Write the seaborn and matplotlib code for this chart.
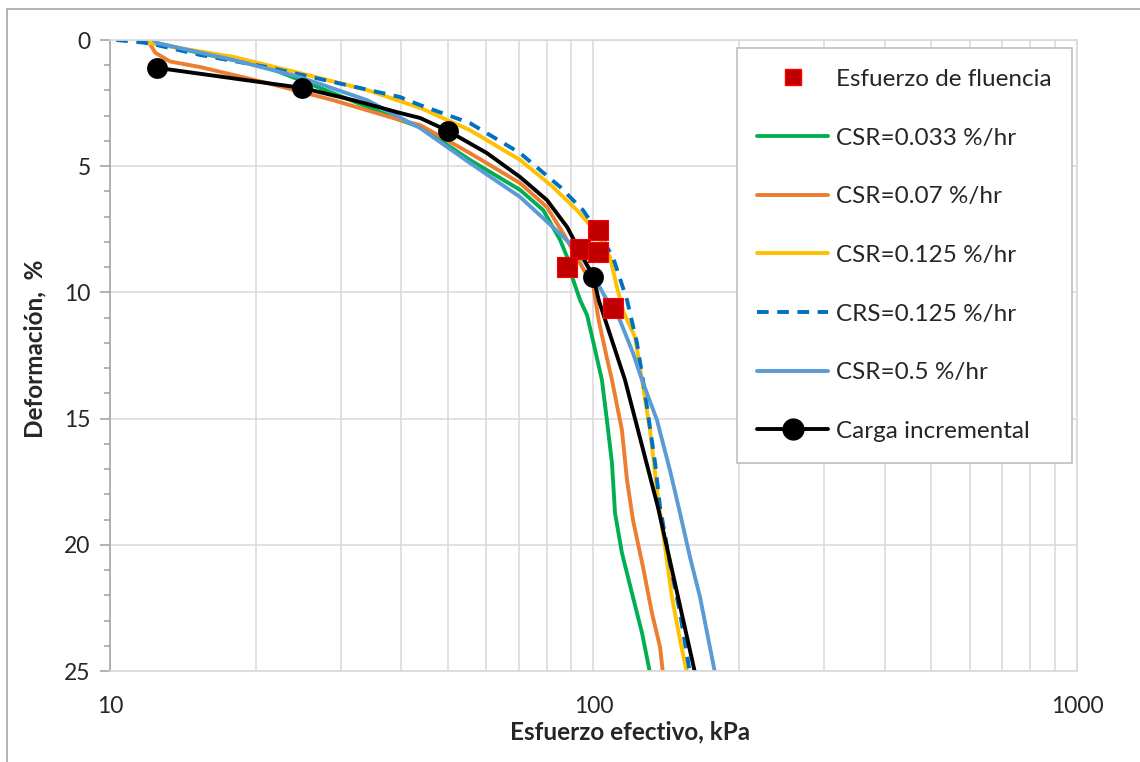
import matplotlib
matplotlib.use("Agg")
import matplotlib.pyplot as plt
import seaborn as sns
from matplotlib.lines import Line2D
from matplotlib.patches import Rectangle
from matplotlib.ticker import FixedLocator, MultipleLocator, NullFormatter

# ---------- DATA -----------------------------------------------------------------
csr_0033_x = [12.3, 12.5, 15.35, 21.1, 28.9, 39.8, 43.8, 55.5, 70.5, 78.7, 85.3, 88.2,
              90.8, 93.8, 97.0, 100, 104.1, 106.6, 109.2, 110.8, 114.5, 120.1, 126.0, 130.9]
csr_0033_y = [0.0, 0.12, 0.52, 1.07, 2.10, 3.17, 3.45, 4.75, 5.94, 6.74, 7.92, 8.6,
              9.51, 10.3, 10.9, 12.0, 13.47, 15.06, 16.76, 18.74, 20.32, 21.91, 23.49, 25.08]

csr_007_x = [12.0, 12.4, 13.3, 15.35, 21.1, 28.9, 39.8, 43.8, 55.5, 70.5, 80.1, 86.5,
             93.8, 100, 102.5, 106.6, 109.2, 114.5, 117.3, 120.7, 126.6, 132.1, 137.3, 139.2]
csr_007_y = [0.05, 0.5, 0.85, 1.07, 1.70, 2.38, 3.17, 3.37, 4.48, 5.67, 6.62, 7.65,
             8.84, 9.79, 11.1, 12.6, 13.47, 15.45, 17.43, 19.02, 20.88, 22.70, 24.05, 25.08]

csr_0125_x = [11.5, 11.7, 18.0, 24.7, 34.0, 43.8, 55.5, 70.5, 82.4, 92.4, 101.7, 108.2,
              111.8, 115.5, 121.9, 126.0, 130.9, 135.9, 140.6, 145.3, 151.0, 156.1]
csr_0125_y = [0.0, 0.08, 0.67, 1.31, 1.98, 2.69, 3.57, 4.75, 5.82, 6.74, 7.65, 8.6,
              9.79, 10.8, 11.77, 13.47, 15.45, 18.11, 20.09, 22.07, 23.77, 25.08]

crs_0125_x = [10.3, 11.7, 12.5, 15.35, 21.1, 28.9, 39.8, 43.8, 55.5, 70.5, 85.3, 95.1,
              102.5, 109.7, 117.3, 123, 127.8, 134.1, 137.3, 143.9, 151.0, 158.3]
crs_0125_y = [0.0, 0.1, 0.2, 0.59, 1.07, 1.66, 2.26, 2.58, 3.29, 4.48, 5.82, 6.74,
              7.65, 8.6, 10.3, 12.0, 13.99, 16.76, 18.5, 20.72, 22.7, 25.08]

csr_05_x = [12.3, 12.5, 18.0, 24.7, 34.0, 43.8, 55.5, 70.5, 82.4, 92.4, 98.3, 106.6,
            113.4, 120.7, 126.0, 135.3, 143.9, 151.0, 158.3, 166.1, 178.4]
csr_05_y = [0.0, 0.12, 0.79, 1.47, 2.38, 3.49, 4.87, 6.22, 7.41, 8.32, 9.11, 10.3,
            11.1, 12.4, 13.47, 15.06, 17.04, 18.74, 20.48, 22.07, 25.08]

carga_x = [12.5, 25, 31.8, 39.8, 43.8, 50, 60.2, 70.5, 80.1, 88.2, 95.1, 100,
           102.5, 116.2, 135.9, 162.2]
carga_y = [1.1, 1.9, 2.38, 2.89, 3.09, 3.6, 4.48, 5.43, 6.34, 7.41, 8.6, 9.4,
           10.3, 13.47, 18.5, 25.08]
carga_marks = [0, 1, 5, 11]   # measured load steps

fluencia_x = [102.2, 93.8, 102.2, 88.2, 109.7]
fluencia_y = [7.53, 8.28, 8.40, 8.99, 10.62]

# ---------- STYLE -----------------------------------------------------------------
sns.set_theme(style="white")
plt.rcParams["font.family"] = ["Lato", "DejaVu Sans"]

GREEN, ORANGE, YELLOW = "#00b050", "#ed7d31", "#ffc000"
DBLUE, LBLUE, RED = "#0070c0", "#5b9bd5", "#c00000"
LW = 2.8
DASH = (3, 2.2)

fig = plt.figure(figsize=(11.4, 7.62), dpi=100)
ax = fig.add_axes([0.0965, 0.1194, 0.8482, 0.8281])

# outer chart border (Excel chart area)
fig.patches.append(Rectangle((0.0061, -0.1), 1.2, 1.088, transform=fig.transFigure,
                             fill=False, edgecolor="#a6a6a6", lw=1.2))

sns.lineplot(x=csr_0033_x, y=csr_0033_y, sort=False, estimator=None, color=GREEN, lw=LW, ax=ax)
sns.lineplot(x=csr_007_x, y=csr_007_y, sort=False, estimator=None, color=ORANGE, lw=LW, ax=ax)
sns.lineplot(x=csr_0125_x, y=csr_0125_y, sort=False, estimator=None, color=YELLOW, lw=LW, ax=ax)
sns.lineplot(x=crs_0125_x, y=crs_0125_y, sort=False, estimator=None, color=DBLUE, lw=LW,
             ax=ax).lines[-1].set_dashes(DASH)
sns.lineplot(x=csr_05_x, y=csr_05_y, sort=False, estimator=None, color=LBLUE, lw=LW, ax=ax)
sns.lineplot(x=carga_x, y=carga_y, sort=False, estimator=None, color="black", lw=LW,
             marker="o", markersize=15, markevery=carga_marks, markeredgewidth=0, ax=ax)
sns.scatterplot(x=fluencia_x, y=fluencia_y, marker="s", s=200, color=RED,
                edgecolor="#ff0000", linewidth=0.8, zorder=5, ax=ax)

# ---------- AXES ------------------------------------------------------------------
ax.set_xscale("log")
ax.set_xlim(10, 1000)
ax.set_ylim(25, 0)
ax.xaxis.set_major_locator(FixedLocator([10, 100, 1000]))
ax.xaxis.set_minor_locator(FixedLocator([d * m for d in (10, 100) for m in range(2, 10)]))
ax.xaxis.set_major_formatter(plt.FuncFormatter(lambda v, p: f"{v:g}"))
ax.xaxis.set_minor_formatter(NullFormatter())
ax.yaxis.set_major_locator(MultipleLocator(5))
ax.yaxis.set_minor_locator(MultipleLocator(1))

ax.grid(True, which="major", color="#d9d9d9", lw=1.1)
ax.xaxis.grid(True, which="minor", color="#d9d9d9", lw=1.1)
for s in ("top", "right", "bottom"):
    ax.spines[s].set_color("#d9d9d9")
ax.spines["left"].set_color("#a6a6a6")
ax.spines["left"].set_linewidth(1.2)

ax.tick_params(axis="x", which="both", length=0, pad=18, labelsize=16.5)
ax.tick_params(axis="y", which="major", left=True, length=7, width=1.2, color="#a6a6a6",
               pad=7, labelsize=16.5)
ax.tick_params(axis="y", which="minor", left=True, length=4, width=1.2, color="#a6a6a6")

ax.set_xlabel("Esfuerzo efectivo, kPa", fontsize=17.5, fontweight="bold")
ax.xaxis.set_label_coords(0.538, -0.078)
ax.set_ylabel("Deformación,  %", fontsize=17.5, fontweight="bold")
ax.yaxis.set_label_coords(-0.066, 0.51)

# ---------- LEGEND ----------------------------------------------------------------
handles = [
    Line2D([], [], ls="none", marker="s", markersize=12, color=RED, markeredgecolor="#ff0000"),
    Line2D([], [], color=GREEN, lw=LW),
    Line2D([], [], color=ORANGE, lw=LW),
    Line2D([], [], color=YELLOW, lw=LW),
    Line2D([], [], color=DBLUE, lw=LW, dashes=DASH),
    Line2D([], [], color=LBLUE, lw=LW),
    Line2D([], [], color="black", lw=LW, marker="o", markersize=15),
]
labels = ["Esfuerzo de fluencia", "CSR=0.033 %/hr", "CSR=0.07 %/hr", "CSR=0.125 %/hr",
          "CRS=0.125 %/hr", "CSR=0.5 %/hr", "Carga incremental"]
leg = ax.legend(handles, labels, loc="upper right", bbox_to_anchor=(0.995, 0.987),
                borderaxespad=0, fontsize=17.5, frameon=True, fancybox=False, framealpha=1,
                edgecolor="#bfbfbf", handlelength=2.9, handletextpad=0.33,
                labelspacing=1.55, borderpad=0.85)
leg.get_frame().set_linewidth(1.2)

fig.savefig("out.png", dpi=100)
